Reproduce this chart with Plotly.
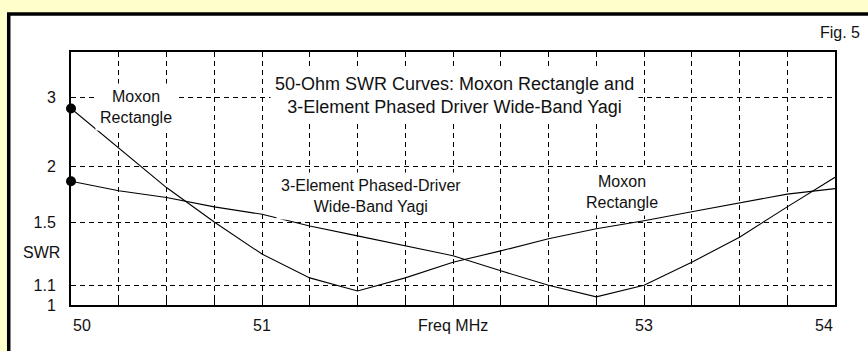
import plotly.graph_objects as go

# Frequency sweep (MHz) and SWR readings for both antennas
freq_mhz = [50.0, 50.25, 50.5, 50.75, 51.0, 51.25, 51.5, 51.75, 52.0,
            52.25, 52.5, 52.75, 53.0, 53.25, 53.5, 53.75, 54.0]
moxon_swr = [2.80, 2.22, 1.79, 1.50, 1.28, 1.14, 1.07, 1.14, 1.23,
             1.30, 1.38, 1.45, 1.51, 1.58, 1.65, 1.73, 1.78]
yagi_swr = [1.85, 1.76, 1.70, 1.62, 1.56, 1.47, 1.40, 1.335, 1.27,
            1.18, 1.10, 1.04, 1.10, 1.23, 1.39, 1.62, 1.89]

# Axis labelling
swr_ticks = [1, 1.1, 1.5, 2, 3]
swr_tick_text = ["1", "1.1", "1.5", "2", "3"]
freq_label_pos = [50, 51, 52, 53, 54]
freq_label_text = ["50", "51", "Freq MHz", "53", "54"]
freq_label_anchor = ["left", "center", "center", "center", "right"]


def rho(s):
    """SWR -> magnitude of reflection coefficient (vertical scale)."""
    return (s - 1.0) / (s + 1.0)


FONT = "Liberation Sans, Arial, sans-serif"
INK = "#111111"

fig = go.Figure()

fig.add_trace(go.Scatter(
    x=freq_mhz, y=[rho(v) for v in moxon_swr], mode="lines",
    line=dict(color="black", width=1.1), name="Moxon Rectangle",
))
fig.add_trace(go.Scatter(
    x=freq_mhz, y=[rho(v) for v in yagi_swr], mode="lines",
    line=dict(color="black", width=1.1), name="3-Element Yagi",
))
fig.add_trace(go.Scatter(
    x=[freq_mhz[0], freq_mhz[0]], y=[rho(moxon_swr[0]), rho(yagi_swr[0])],
    mode="markers", marker=dict(color="black", size=10),
    cliponaxis=False, showlegend=False,
))

dash = "5px,4px"
fig.update_xaxes(
    range=[50, 54], tick0=50, dtick=0.25, showticklabels=False,
    ticks="inside", ticklen=5, tickwidth=1, tickcolor="black",
    showgrid=True, gridcolor="black", gridwidth=1, griddash=dash,
    showline=True, linecolor="black", linewidth=2, mirror=True,
    zeroline=False,
)
fig.update_yaxes(
    range=[0, 0.61], tickmode="array",
    tickvals=[rho(v) for v in swr_ticks], ticktext=swr_tick_text,
    ticks="", ticklabelstandoff=10,
    tickfont=dict(family=FONT, size=16, color=INK),
    showgrid=True, gridcolor="black", gridwidth=1, griddash=dash,
    showline=True, linecolor="black", linewidth=2, mirror=True,
    zeroline=False,
)

annotations = []
for pos, txt, anc in zip(freq_label_pos, freq_label_text, freq_label_anchor):
    annotations.append(dict(
        x=pos, xref="x", y=-0.083, yref="paper", text=txt, showarrow=False,
        xanchor=anc, yanchor="middle", font=dict(family=FONT, size=16, color=INK),
    ))

label_box = dict(showarrow=False, bgcolor="white", borderpad=4,
                 xref="x", yref="y", xanchor="center", yanchor="middle")
label_font = dict(family=FONT, size=16, color=INK)
annotations += [
    dict(x=52.01, y=0.506,
         text="50-Ohm SWR Curves: Moxon Rectangle and<br>3-Element Phased Driver Wide-Band Yagi",
         font=dict(family=FONT, size=18, color=INK), **label_box),
    dict(x=50.34, y=0.478, text="Moxon<br>Rectangle", font=label_font, **label_box),
    dict(x=51.57, y=0.262, text="3-Element Phased-Driver<br>Wide-Band Yagi",
         font=label_font, **label_box),
    dict(x=52.885, y=0.272, text="Moxon<br>Rectangle", font=label_font, **label_box),
    dict(x=1.007, y=1.079, xref="paper", yref="paper", text="Fig. 5",
         showarrow=False, xanchor="center", yanchor="middle", font=label_font),
    dict(x=-0.039, y=rho(1.29), xref="paper", yref="y", text="SWR",
         showarrow=False, xanchor="center", yanchor="middle", font=label_font),
]

# White panel with heavy black frame on the pale-yellow page
fig.add_shape(type="rect", xref="paper", yref="paper",
              x0=-0.0815, x1=1.08, y0=-0.25, y1=1.15,
              line=dict(color="black", width=3.5), fillcolor="white",
              layer="below")

fig.update_layout(
    width=868, height=351,
    margin=dict(l=71, r=33, t=52, b=46),
    paper_bgcolor="#FFFFCC", plot_bgcolor="rgba(0,0,0,0)",
    showlegend=False, annotations=annotations,
    font=dict(family=FONT, size=16, color=INK),
)

fig.write_html("out.html")
